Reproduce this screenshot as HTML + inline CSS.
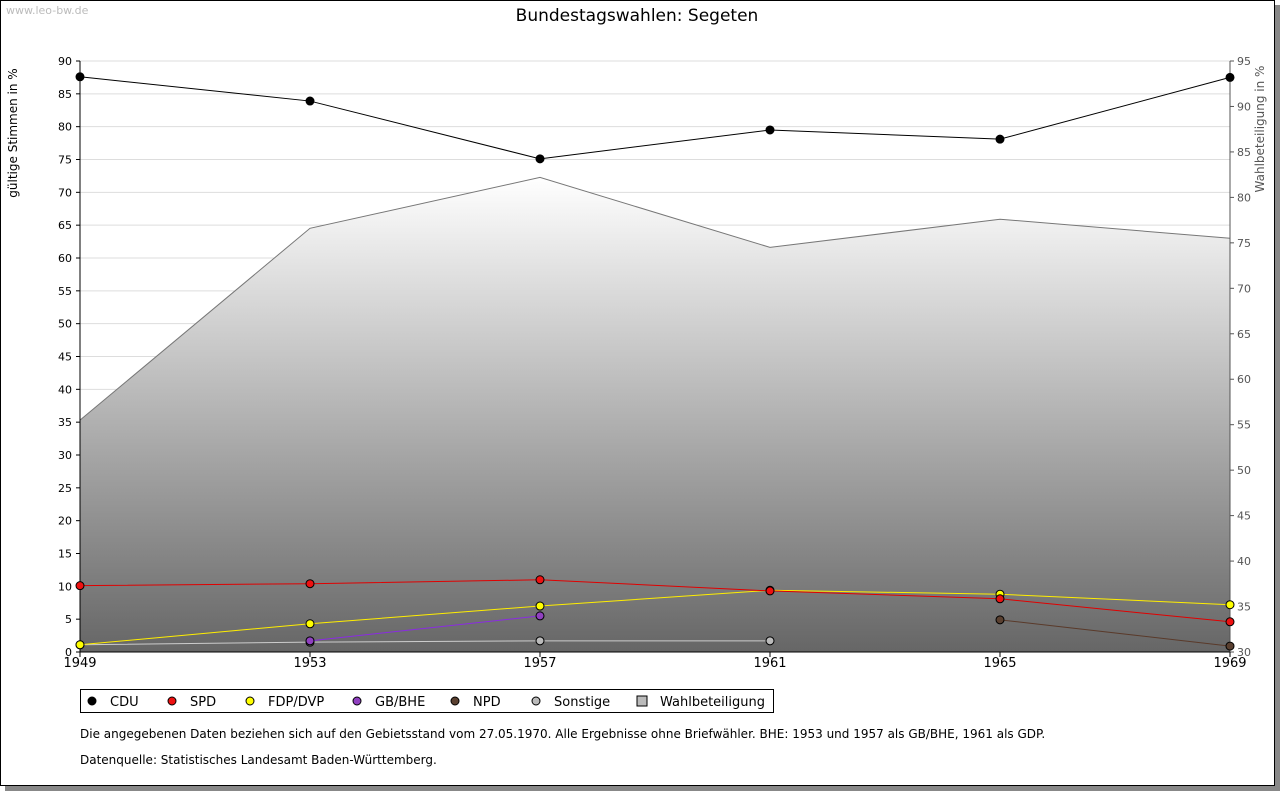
<!DOCTYPE html>
<html><head><meta charset="utf-8"><style>
body{margin:0;background:#fff;font-family:"DejaVu Sans","Liberation Sans",sans-serif;}
#frame{position:absolute;left:0;top:0;width:1273px;height:784px;border:1px solid #000;box-shadow:5px 5px 0 #888;background:#fff;}
svg{position:absolute;left:0;top:0;font-family:"DejaVu Sans","Liberation Sans",sans-serif;}
</style></head><body>
<div id="frame"></div>
<svg id="c" width="1280" height="791"></svg>
<script>
const years=["1949","1953","1957","1961","1965","1969"];
const cdu=[87.6,83.9,75.1,79.5,78.1,87.5];
const spd=[10.1,10.4,11.0,9.3,8.1,4.6];
const fdp=[1.1,4.3,7.0,9.4,8.8,7.2];
const gbbhe=[null,1.7,5.5,null,null,null];
const npd=[null,null,null,null,4.9,0.9];
const sonst=[1.1,1.5,1.7,1.7,null,null];
const wahl=[55.5,76.6,82.2,74.5,77.6,75.5];
const leftTicks=[0,5,10,15,20,25,30,35,40,45,50,55,60,65,70,75,80,85,90];
const rightTicks=[30,35,40,45,50,55,60,65,70,75,80,85,90,95];
const X0=80,X1=1230,YB=652,YT=61;
const x=i=>X0+(X1-X0)*i/(years.length-1);
const yl=v=>YB-(YB-YT)*v/90;
const yr=v=>YB-(YB-YT)*(v-30)/65;
const svg=document.getElementById('c');const NS='http://www.w3.org/2000/svg';
function mk(t,a,txt){const e=document.createElementNS(NS,t);for(const k in a)e.setAttribute(k,a[k]);if(txt!=null)e.textContent=txt;svg.appendChild(e);return e;}
const defs=mk('defs',{});defs.innerHTML='<linearGradient id="g" x1="0" y1="0" x2="0" y2="1"><stop offset="0" stop-color="#fff"/><stop offset="1" stop-color="#666"/></linearGradient>';
let t=mk('text',{x:637,y:21,'font-size':17,'text-anchor':'middle'},'Bundestagswahlen: Segeten');

t=mk('text',{x:6,y:14,'font-size':11,fill:'#bbb'},'www.leo-bw.de');

leftTicks.forEach(v=>{if(v>0){const l=mk('line',{x1:X0,x2:X1,y1:yl(v),y2:yl(v),stroke:'#ddd'});}
const e=mk('text',{x:X0-8,y:yl(v)+4,'font-size':11,'text-anchor':'end'},v);
mk('line',{x1:X0-4,x2:X0,y1:yl(v),y2:yl(v),stroke:'#000'});});
rightTicks.forEach(v=>{const e=mk('text',{x:X1+7,y:yr(v)+4,'font-size':11,fill:'#555'},v);
mk('line',{x1:X1,x2:X1+4,y1:yr(v),y2:yr(v),stroke:'#555'});});
let pts=wahl.map((v,i)=>x(i)+','+yr(v)).join(' ');
let a=mk('polygon',{points:X0+','+YB+' '+pts+' '+X1+','+YB,fill:'url(#g)'});

a=mk('polyline',{points:pts,fill:'none',stroke:'#777'});

mk('line',{x1:X0,x2:X0,y1:YT,y2:YB,stroke:'#000'});
mk('line',{x1:X1,x2:X1,y1:YT,y2:YB,stroke:'#555'});
mk('line',{x1:X0,x2:X1,y1:YB,y2:YB,stroke:'#000'});
years.forEach((yv,i)=>{mk('line',{x1:x(i),x2:x(i),y1:YB,y2:YB+5,stroke:'#000'});
const e=mk('text',{x:x(i),y:YB+15,'font-size':13,'text-anchor':'middle'},yv);});
t=mk('text',{x:17,y:133,'font-size':12,'text-anchor':'middle',transform:'rotate(-90 17 133)'},'gültige Stimmen in %');

t=mk('text',{x:1264,y:129,'font-size':12,fill:'#555','text-anchor':'middle',transform:'rotate(-90 1264 129)'},'Wahlbeteiligung in %');

function series(name,data,line,fill){let segs=[],cur=[];data.forEach((v,i)=>{if(v==null){if(cur.length)segs.push(cur);cur=[];}else cur.push(x(i)+','+yl(v));});if(cur.length)segs.push(cur);
segs.forEach(s=>{const p=mk('polyline',{points:s.join(' '),fill:'none',stroke:line});});
data.forEach((v,i)=>{if(v==null)return;const d=mk('circle',{cx:x(i),cy:yl(v),r:4,fill:fill,stroke:'#000','stroke-width':1});});}
series('sonstige',sonst,'#ccc','#bbb');
series('npd',npd,'#5a3a2a','#5a4030');
series('gbbhe',gbbhe,'#8a2be2','#9040c0');
series('fdp',fdp,'#ffee00','#ffff00');
series('spd',spd,'#e00000','#ee1111');
series('cdu',cdu,'#000','#000');
const lg=mk('rect',{x:80.5,y:689.5,width:693,height:23,fill:'#fff',stroke:'#000'});
const items=[['CDU','#000',92],['SPD','#ee1111',172],['FDP/DVP','#ffff00',250],['GB/BHE','#9040c0',357],['NPD','#5a4030',455],['Sonstige','#bbb',536],['Wahlbeteiligung','#bbb',642]];
items.forEach((it,k)=>{const cx=it[2],cy=701;
if(k==6){mk('rect',{x:cx-5,y:cy-5,width:10,height:10,fill:'#bbb',stroke:'#000'});}
else mk('circle',{cx:cx,cy:cy,r:4,fill:it[1],stroke:'#000'});
const e=mk('text',{x:cx+18,y:cy+5,'font-size':13},it[0]);});
t=mk('text',{x:80,y:738,'font-size':12},'Die angegebenen Daten beziehen sich auf den Gebietsstand vom 27.05.1970. Alle Ergebnisse ohne Briefwähler. BHE: 1953 und 1957 als GB/BHE, 1961 als GDP.');

t=mk('text',{x:80,y:764,'font-size':12},'Datenquelle: Statistisches Landesamt Baden-Württemberg.');

</script>
</body></html>
